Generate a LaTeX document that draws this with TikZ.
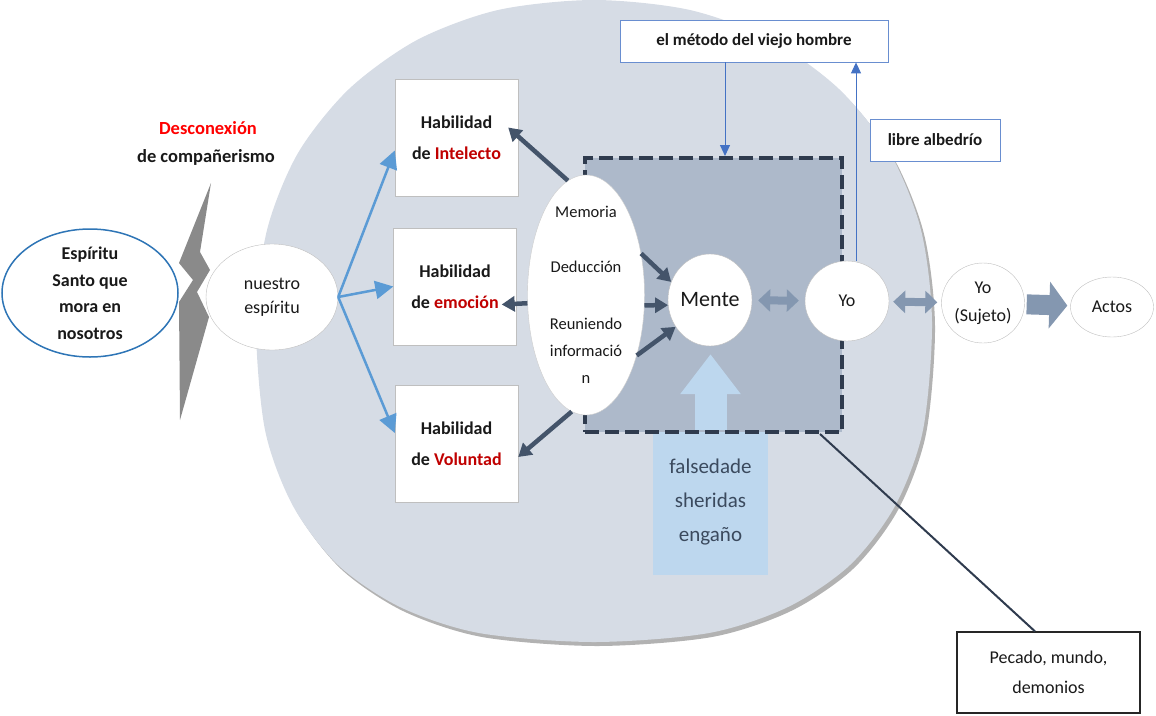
\documentclass[tikz,border=0pt]{standalone}
\usepackage{fontspec}
\setmainfont{Carlito}
\usetikzlibrary{shapes.geometric,arrows.meta,shadows}

\definecolor{ovalfill}{HTML}{D6DCE5}
\definecolor{mindfill}{HTML}{ADB9CA}
\definecolor{dashline}{HTML}{2F3B4E}
\definecolor{darkarrow}{HTML}{44546A}
\definecolor{widearrow}{HTML}{8497B0}
\definecolor{lightblue}{HTML}{BDD7EE}
\definecolor{bluearrow}{HTML}{5B9BD5}
\definecolor{thinblue}{HTML}{4472C4}
\definecolor{espblue}{HTML}{2E75B6}
\definecolor{redtext}{HTML}{C00000}
\definecolor{textgray}{HTML}{3B4A5E}
\definecolor{boltgray}{HTML}{8A8A8A}

\begin{document}
\begin{tikzpicture}[x={(1pt,0)},y={(0,-1pt)},
  habbox/.style={draw=black!25, fill=white, minimum width=123pt, minimum height=117pt, inner sep=0pt, align=center, font=\fontsize{18}{31}\selectfont\bfseries, text=black!90},
  bubble/.style={ellipse, draw=black!25, fill=white, inner sep=0pt, align=center, font=\fontsize{18}{28}\selectfont, text=black!90},
  infobox/.style={draw=thinblue!80, fill=white, line width=0.8pt, inner sep=0pt, font=\fontsize{17}{20}\selectfont\bfseries, text=black!90},
  bluearr/.style={bluearrow, line width=2.5pt, -{Triangle[length=18pt,width=18pt]}},
  darkarr/.style={darkarrow, line width=4.5pt, -{Triangle[length=13pt,width=15pt]}},
  thinarr/.style={thinblue, line width=1pt, -{Triangle[length=11pt,width=10pt]}},
  fatarr/.style={widearrow, line width=8pt, {Triangle[length=12pt,width=22pt]}-{Triangle[length=12pt,width=22pt]}}
]
\useasboundingbox (0,0) rectangle (1156,715);
\fill[ovalfill, drop shadow={shadow xshift=3pt, shadow yshift=-4pt, opacity=0.3, fill=black}] plot[smooth cycle] coordinates {(932,322) (921,230) (890,153) (839,89) (771,40) (690,10) (594,0) (498,10) (417,40) (349,89) (298,153) (267,230) (256,322) (265,430) (293,506) (338,565) (400,607) (479,633) (594,642) (709,633) (788,607) (850,565) (895,506) (923,430)};
\fill[boltgray] (211,183) -- (179,263) -- (193,280) -- (179,302) -- (180,420) -- (209,317) -- (197,292) -- (210,270) -- (200,252) -- cycle;
\node[font=\fontsize{18.5}{22}\selectfont\bfseries, text=red] (descon) at (208,128) {Desconexión};
\node[font=\fontsize{18.5}{22}\selectfont\bfseries, text=black!90] (compa) at (206,157) {de compañerismo};
\node[bubble, draw=espblue, line width=1.5pt, minimum width=176pt, minimum height=128pt, label={[align=center, font=\fontsize{18}{26.5}\selectfont\bfseries, text=black!90]center:{Espíritu\\Santo que\\mora en\\nosotros}}] (santo) at (90,293) {};
\node[bubble, minimum width=132pt, minimum height=106pt, font=\fontsize{18}{24}\selectfont] (nuestro) at (272,297) {nuestro\\espíritu};
\node[habbox] (intel) at (456.5,137.5) {Habilidad\\de \textcolor{redtext}{Intelecto}};
\node[habbox] (emoc) at (455,286.5) {Habilidad\\de \textcolor{redtext}{emoción}};
\node[habbox] (volun) at (456.5,444) {Habilidad\\de \textcolor{redtext}{Voluntad}};
\node[fill=lightblue, minimum width=115pt, minimum height=145pt, align=center, font=\fontsize{21}{34}\selectfont, text=textgray] (fals) at (710.5,502.5) {falsedade\\sheridas\\engaño};
\node[draw=dashline, fill=mindfill, line width=4pt, dash pattern=on 14pt off 6pt, minimum width=257pt, minimum height=274pt, inner sep=0pt] (mindbox) at (713.5,295) {};
\node[draw=black!85, line width=1.2pt, fill=white, minimum width=183pt, minimum height=81pt, align=center, font=\fontsize{18}{30}\selectfont, text=black!90] (pecado) at (1048.5,672.5) {Pecado, mundo,\\demonios};
\draw[dashline, line width=2pt] ([xshift=106.5pt]mindbox.south) -- ([xshift=-13.5pt]pecado.north);
\node[ellipse, draw=black!20, fill=white, minimum width=117pt, minimum height=240pt, inner sep=0pt, label={[align=center, font=\fontsize{16.5}{27}\selectfont, text=black!90]center:{Memoria\\[28pt]Deducción\\[30pt]Reuniendo\\informació\\n}}] (memo) at (586,295) {};
\node[bubble, minimum width=84pt, minimum height=92pt, font=\fontsize{22}{26}\selectfont] (mente) at (710,300) {Mente};
\draw[lightblue, line width=32pt, -{Triangle[length=40pt,width=58pt]}, shorten >=8pt] (fals.north) -- (fals.north |- mente.south);
\node[bubble, minimum width=84pt, minimum height=80pt] (yo) at (847,301) {Yo};
\node[bubble, minimum width=83pt, minimum height=80pt] (sujeto) at (983,303) {Yo\\(Sujeto)};
\node[bubble, minimum width=83pt, minimum height=60pt] (actos) at (1112,307) {Actos};
\node[infobox, minimum width=268pt, minimum height=42pt] (metodo) at (754,41) {el método del viejo hombre};
\node[infobox, minimum width=130pt, minimum height=42pt] (libre) at (935,140) {libre albedrío};
\draw[bluearr] (nuestro.east) -- ([yshift=-13pt]intel.west);
\draw[bluearr] (nuestro.east) -- (emoc.west);
\draw[bluearr] (nuestro.east) -- ([yshift=11pt]volun.west);
\draw[darkarr] (memo.99) -- ([xshift=-10pt,yshift=10pt]intel.east);
\draw[darkarr] (memo.188) -- ([xshift=-15pt,yshift=-18pt]emoc.east);
\draw[darkarr] (memo.263) -- ([yshift=-13pt]volun.east);
\draw[darkarr] (memo.37) -- (mente.155);
\draw[darkarr] (memo.350) -- (mente.187);
\draw[darkarr] (memo.310) -- (mente.218);
\draw[fatarr, shorten <=6pt, shorten >=6pt] (mente) -- (yo);
\draw[fatarr, shorten <=4pt, shorten >=4pt] (yo) -- (sujeto);
\draw[widearrow, line width=20pt, -{Triangle[length=18pt,width=46pt]}, shorten <=2pt, shorten >=3pt] (sujeto) -- (actos);
\draw[thinarr] ([xshift=-29pt]metodo.south) -- ([xshift=-29pt]metodo.south |- mindbox.north);
\draw[thinarr] ([xshift=9pt]yo.north) -- ([xshift=9pt]yo.north |- metodo.south);
\end{tikzpicture}
\end{document}
